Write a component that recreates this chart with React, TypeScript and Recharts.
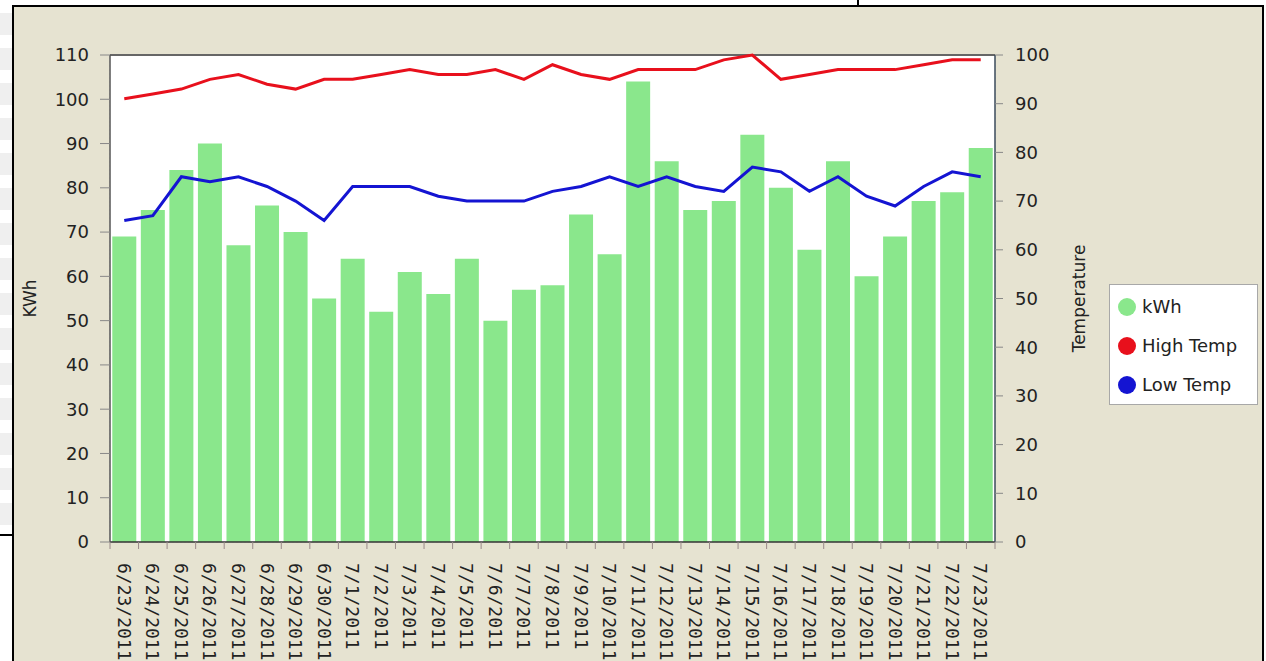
import React from 'react';
import { ComposedChart, Bar, Line, XAxis, YAxis, CartesianGrid, Legend, ReferenceLine } from 'recharts';

const dates = [
  '6/23/2011', '6/24/2011', '6/25/2011', '6/26/2011', '6/27/2011', '6/28/2011', '6/29/2011', '6/30/2011',
  '7/1/2011', '7/2/2011', '7/3/2011', '7/4/2011', '7/5/2011', '7/6/2011', '7/7/2011', '7/8/2011',
  '7/9/2011', '7/10/2011', '7/11/2011', '7/12/2011', '7/13/2011', '7/14/2011', '7/15/2011', '7/16/2011',
  '7/17/2011', '7/18/2011', '7/19/2011', '7/20/2011', '7/21/2011', '7/22/2011', '7/23/2011',
];
const kwh = [69, 75, 84, 90, 67, 76, 70, 55, 64, 52, 61, 56, 64, 50, 57, 58, 74, 65, 104, 86, 75, 77, 92, 80, 66, 86, 60, 69, 77, 79, 89];
const highTemp = [91, 92, 93, 95, 96, 94, 93, 95, 95, 96, 97, 96, 96, 97, 95, 98, 96, 95, 97, 97, 97, 99, 100, 95, 96, 97, 97, 97, 98, 99, 99];
const lowTemp = [66, 67, 75, 74, 75, 73, 70, 66, 73, 73, 73, 71, 70, 70, 70, 72, 73, 75, 73, 75, 73, 72, 77, 76, 72, 75, 71, 69, 73, 76, 75];
const kwhTicks = [0, 10, 20, 30, 40, 50, 60, 70, 80, 90, 100, 110];
const tempTicks = [0, 10, 20, 30, 40, 50, 60, 70, 80, 90, 100];
const legendOrder = ['kWh', 'High Temp', 'Low Temp'];

const data = dates.map((d, i) => ({ date: d, kWh: kwh[i], high: highTemp[i], low: lowTemp[i] }));

const FONT = "'DejaVu Sans', Verdana, sans-serif";
const GREEN = '#8ae78c';
const RED = '#e8101c';
const BLUE = '#1414d2';

const XTick = (props: any) => {
  const { x, y, payload, index } = props;
  const half = payload && payload.offset ? payload.offset : 14.27;
  const ty = y + 21;
  return (
    <g>
      <line x1={x - half} x2={x - half} y1={y} y2={y + 7} stroke="#9a8a8a" strokeWidth={1} />
      {index === dates.length - 1 && (
        <line x1={x + half} x2={x + half} y1={y} y2={y + 7} stroke="#9a8a8a" strokeWidth={1} />
      )}
      <text
        x={x}
        y={ty}
        transform={`rotate(90, ${x}, ${ty})`}
        textAnchor="start"
        dy="0.36em"
        fontFamily="'DejaVu Sans Mono', monospace"
        fontSize={18}
        fill="#222"
      >
        {payload.value}
      </text>
    </g>
  );
};

const LeftLabel = (props: any) => {
  const vb = props.viewBox || { x: 40, y: 55, width: 70, height: 487 };
  const cx = vb.x - 10;
  const cy = vb.y + vb.height / 2;
  return (
    <text x={cx} y={cy} transform={`rotate(-90, ${cx}, ${cy})`} textAnchor="middle" dy="0.36em" fontFamily={FONT} fontSize={17} fill="#222">
      KWh
    </text>
  );
};

const RightLabel = (props: any) => {
  const vb = props.viewBox || { x: 995, y: 55, width: 70, height: 487 };
  const cx = vb.x + vb.width + 14;
  const cy = vb.y + vb.height / 2;
  return (
    <text x={cx} y={cy} transform={`rotate(-90, ${cx}, ${cy})`} textAnchor="middle" dy="0.36em" fontFamily={FONT} fontSize={17} fill="#222">
      Temperature
    </text>
  );
};

const renderLegend = (props: any) => {
  const payload = [...(props.payload || [])].sort(
    (a: any, b: any) => legendOrder.indexOf(a.value) - legendOrder.indexOf(b.value)
  );
  return (
    <div
      style={{
        width: 149,
        height: 121,
        boxSizing: 'border-box',
        background: '#fff',
        border: '1px solid #a8a8a8',
        padding: '2px 0 0 8px',
        fontFamily: FONT,
        fontSize: 18,
        color: '#222',
      }}
    >
      {payload.map((p: any) => (
        <div key={p.value} style={{ display: 'flex', alignItems: 'center', height: 39 }}>
          <span
            style={{
              display: 'inline-block',
              width: 18,
              height: 18,
              borderRadius: 9,
              background: p.color,
              marginRight: 6,
            }}
          />
          <span>{p.value}</span>
        </div>
      ))}
    </div>
  );
};

export default function App() {
  return (
    <div style={{ position: 'absolute', left: 0, top: 0, width: 1266, height: 661, overflow: 'hidden', background: '#fff' }}>
      <div
        style={{
          position: 'absolute',
          left: 0,
          top: 13,
          width: 13,
          height: 522,
          background: 'repeating-linear-gradient(to bottom, #efefef 0px, #efefef 22px, #ffffff 22px, #ffffff 35px)',
        }}
      />
      <div style={{ position: 'absolute', left: 0, top: 534, width: 13, height: 2, background: '#000' }} />
      <div style={{ position: 'absolute', left: 857, top: 0, width: 2, height: 6, background: '#000' }} />
      <div
        style={{
          position: 'absolute',
          left: 12,
          top: 5,
          width: 1252,
          height: 720,
          boxSizing: 'border-box',
          border: '2px solid #000',
          background: '#e6e3d1',
        }}
      />
      <div style={{ position: 'absolute', left: 0, top: 0 }}>
        <ComposedChart
          width={1266}
          height={661}
          data={data}
          margin={{ top: 55, right: 201, left: 40, bottom: 19 }}
          barCategoryGap="8%"
        >
          <rect x={110} y={55} width={885} height={487} fill="#fff" />
          <CartesianGrid yAxisId="left" stroke="#f0f0f0" strokeDasharray="2 2" fill="#ffffff" />
          <XAxis
            dataKey="date"
            interval={0}
            height={100}
            tickSize={0}
            tickMargin={0}
            tickLine={false}
            axisLine={{ stroke: '#333', strokeWidth: 1.5 }}
            tick={<XTick />}
          />
          <YAxis
            yAxisId="left"
            orientation="left"
            width={70}
            domain={[0, 110]}
            ticks={kwhTicks}
            interval={0}
            tickSize={10}
            tickMargin={11}
            axisLine={{ stroke: '#555', strokeWidth: 1.5 }}
            tickLine={{ stroke: '#888' }}
            tick={{ fontSize: 18, fill: '#222', fontFamily: FONT }}
            label={<LeftLabel />}
          />
          <YAxis
            yAxisId="right"
            orientation="right"
            width={70}
            domain={[0, 100]}
            ticks={tempTicks}
            interval={0}
            tickSize={8}
            tickMargin={12}
            axisLine={{ stroke: '#3a4a5a', strokeWidth: 1.5 }}
            tickLine={{ stroke: '#888' }}
            tick={{ fontSize: 18, fill: '#222', fontFamily: FONT }}
            label={<RightLabel />}
          />
          <ReferenceLine yAxisId="left" y={110} stroke="#666" strokeWidth={2} />
          <Legend
            layout="vertical"
            align="center"
            verticalAlign="middle"
            wrapperStyle={{ left: 1109, top: 284, width: 149, height: 121 }}
            content={renderLegend}
          />
          <Bar yAxisId="left" dataKey="kWh" name="kWh" fill={GREEN} isAnimationActive={false} />
          <Line yAxisId="right" type="linear" dataKey="high" name="High Temp" stroke={RED} strokeWidth={3} dot={false} isAnimationActive={false} />
          <Line yAxisId="right" type="linear" dataKey="low" name="Low Temp" stroke={BLUE} strokeWidth={3} dot={false} isAnimationActive={false} />
        </ComposedChart>
      </div>
    </div>
  );
}
